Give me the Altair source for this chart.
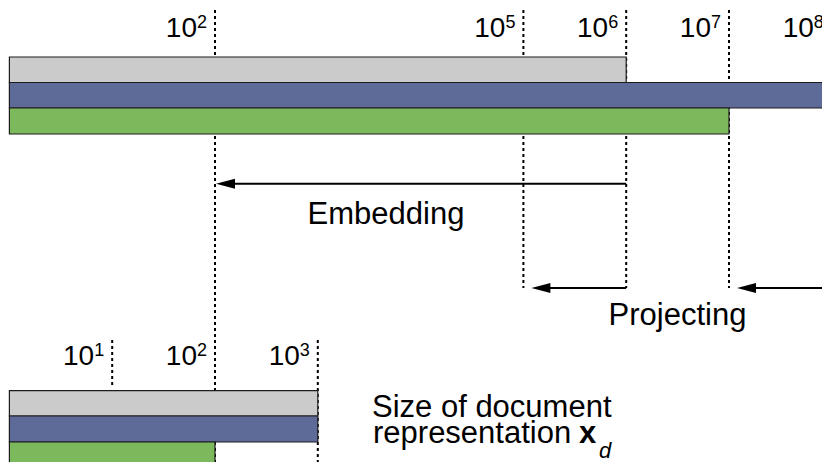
import altair as alt
import pandas as pd

# ---------------- data ----------------
series = ["gray", "blue", "green"]
series_colors = ["#cbcbcb", "#5e6b98", "#7cb85c"]
top_sizes = [1e6, 1e8, 1e7]          # original representations
bottom_sizes = [1e3, 1e3, 1e2]       # reduced representations
top_ticks = [1e2, 1e5, 1e6, 1e7, 1e8]
top_tick_exp = ["2", "5", "6", "7", "8"]
bottom_ticks = [1e1, 1e2, 1e3]
bottom_tick_exp = ["1", "2", "3"]
embed_from = [1e6]
embed_to = [1e2]
proj_from = [1e6, 1e8]
proj_to = [1e5, 1e7]
bar_base = 1.0

# ---------------- layout (pixels, y measured from top) ----------------
W, H = 814, 454
x_domain = [10 ** -0.0136, 10 ** 7.9047]
top_rows = [(49, 74.5), (74.5, 100), (100, 126)]
bottom_rows = [(382.7, 408), (408, 434), (434, 460)]

xs = alt.Scale(type="log", domain=x_domain, nice=False, zero=False)
ys = alt.Scale(domain=[0, H], reverse=True, nice=False, zero=False)
FONT = "Liberation Sans"

# bars
bar_rows = []
for s, v, (a, b) in zip(series, top_sizes, top_rows):
    bar_rows.append(dict(series=s, start=bar_base, end=v, y0=a, y1=b))
for s, v, (a, b) in zip(series, bottom_sizes, bottom_rows):
    bar_rows.append(dict(series=s, start=bar_base, end=v, y0=a, y1=b))
bars_df = pd.DataFrame(bar_rows)

# dashed guide lines
guide_rows = []
for t in top_ticks:
    guide_rows.append(dict(x=t, y0=2, y1=H if t == 1e2 else 280))
for t in bottom_ticks:
    if t == 1e2:
        continue
    guide_rows.append(dict(x=t, y0=332, y1=377 if t == 1e1 else H))
guides_df = pd.DataFrame(guide_rows)

# tick labels
tick_rows = []
for t, e in zip(top_ticks, top_tick_exp):
    tick_rows.append(dict(x=t, exp=e, base="10", yb=29, ye=20))
for t, e in zip(bottom_ticks, bottom_tick_exp):
    tick_rows.append(dict(x=t, exp=e, base="10", yb=357, ye=348))
ticks_df = pd.DataFrame(tick_rows)

# arrows
embed_df = pd.DataFrame(dict(x=embed_from, x2=embed_to, y=[175.7] * len(embed_from)))
proj_df = pd.DataFrame(dict(x=proj_from, x2=proj_to, y=[280] * len(proj_from)))

ARROW = "M0,0 L2,-0.53 L2,0.53 Z"

guides = alt.Chart(guides_df).mark_rule(
    color="black", strokeWidth=2, strokeDash=[3, 3], clip=True
).encode(
    x=alt.X("x:Q", scale=xs, axis=None),
    y=alt.Y("y0:Q", scale=ys, axis=None),
    y2="y1:Q",
)

bars = alt.Chart(bars_df).mark_rect(
    stroke="#1c1c1c", strokeWidth=1.2, clip=True
).encode(
    x=alt.X("start:Q", scale=xs, axis=None),
    x2="end:Q",
    y=alt.Y("y0:Q", scale=ys, axis=None),
    y2="y1:Q",
    color=alt.Color("series:N", scale=alt.Scale(domain=series, range=series_colors), legend=None),
)

embed_line = alt.Chart(embed_df).mark_rule(color="black", strokeWidth=2, x2Offset=10).encode(
    x=alt.X("x:Q", scale=xs, axis=None), x2="x2:Q", y=alt.Y("y:Q", scale=ys, axis=None)
)
embed_head = alt.Chart(embed_df).mark_point(
    shape=ARROW, size=361, filled=True, opacity=1, color="black", strokeWidth=0, xOffset=1
).encode(x=alt.X("x2:Q", scale=xs, axis=None), y=alt.Y("y:Q", scale=ys, axis=None))

proj_line = alt.Chart(proj_df).mark_rule(color="black", strokeWidth=2, x2Offset=16, clip=True).encode(
    x=alt.X("x:Q", scale=xs, axis=None), x2="x2:Q", y=alt.Y("y:Q", scale=ys, axis=None)
)
proj_head = alt.Chart(proj_df).mark_point(
    shape=ARROW, size=361, filled=True, opacity=1, color="black", strokeWidth=0, xOffset=8
).encode(x=alt.X("x2:Q", scale=xs, axis=None), y=alt.Y("y:Q", scale=ys, axis=None))

tick_base = alt.Chart(ticks_df).mark_text(
    align="right", baseline="alphabetic", dx=-18, font=FONT, fontSize=28, color="black"
).encode(x=alt.X("x:Q", scale=xs, axis=None), y=alt.Y("yb:Q", scale=ys, axis=None), text="base:N")
tick_exp = alt.Chart(ticks_df).mark_text(
    align="left", baseline="alphabetic", dx=-18, font=FONT, fontSize=18, color="black"
).encode(x=alt.X("x:Q", scale=xs, axis=None), y=alt.Y("ye:Q", scale=ys, axis=None), text="exp:N")


def label(txt, x, y, align="left", size=31, weight="normal", style="normal"):
    return alt.Chart(pd.DataFrame({"t": [txt]})).mark_text(
        align=align, baseline="alphabetic", font=FONT, fontSize=size,
        fontWeight=weight, fontStyle=style, color="black"
    ).encode(x=alt.value(x), y=alt.value(y), text="t:N")


labels = [
    label("Embedding", 378, 216, align="center"),
    label("Projecting", 669.5, 317, align="center"),
    label("Size of document", 364, 409),
    label("representation", 365, 435),
    label("x", 571, 435, weight="bold"),
    label("d", 591, 450, size=22, style="italic"),
]

chart = alt.layer(
    guides, bars, embed_line, embed_head, proj_line, proj_head, tick_base, tick_exp, *labels
).properties(
    width=W, height=H, autosize="none", padding=0, background="white"
).configure_view(strokeWidth=0)

chart.save("out.html", embed_options={"renderer": "svg", "actions": False})
